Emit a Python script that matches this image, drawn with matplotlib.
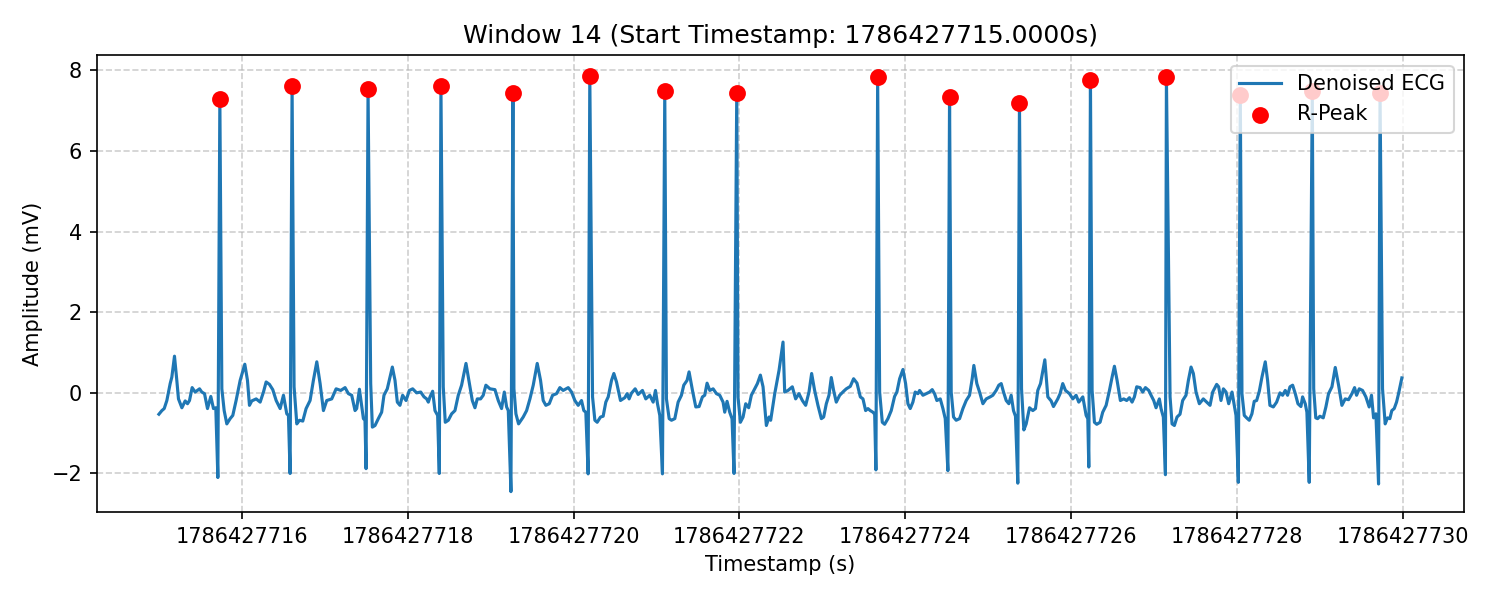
import matplotlib
matplotlib.use("Agg")
import matplotlib.pyplot as plt
from matplotlib.ticker import MultipleLocator

window_id = 14
start_ts = 1786427715.0

# R-peaks (offset from window start in s, amplitude in mV)
peak_t = [0.735, 1.606, 2.522, 3.401, 4.269, 5.196, 6.100, 6.968,
          8.667, 9.534, 10.377, 11.233, 12.149, 13.040, 13.908, 14.725]
peak_v = [7.28, 7.60, 7.53, 7.60, 7.43, 7.86, 7.48, 7.45,
          7.83, 7.35, 7.20, 7.75, 7.83, 7.40, 7.48, 7.45]

# denoised ECG trace (R-peaks are merged in below)
ecg_t = [
    0.000, 0.036, 0.064, 0.096, 0.136, 0.156, 0.188, 0.216, 0.236, 0.277,
    0.317, 0.345, 0.369, 0.401, 0.437, 0.490, 0.517, 0.550, 0.586, 0.626,
    0.658, 0.686, 0.711,
    0.759, 0.787, 0.819, 0.859, 0.891, 0.931, 0.980, 1.036, 1.068, 1.092,
    1.120, 1.173, 1.221, 1.261, 1.293, 1.333, 1.373, 1.414, 1.462, 1.502,
    1.542, 1.562, 1.582,
    1.630, 1.663, 1.695, 1.735, 1.775, 1.823, 1.863, 1.904, 1.944, 1.984,
    2.024, 2.084, 2.137, 2.193, 2.245, 2.285, 2.325, 2.365, 2.385, 2.418,
    2.466, 2.485, 2.498,
    2.554, 2.574, 2.606, 2.646, 2.686, 2.714, 2.754, 2.815, 2.847, 2.875,
    2.907, 2.939, 2.980, 3.020, 3.060, 3.108, 3.157, 3.197, 3.229, 3.249,
    3.269, 3.301, 3.329, 3.361, 3.381,
    3.429, 3.453, 3.490, 3.530, 3.570, 3.610, 3.650, 3.703, 3.751, 3.779,
    3.811, 3.839, 3.879, 3.911, 3.943, 3.992, 4.052, 4.092, 4.132, 4.165,
    4.193, 4.213, 4.245,
    4.281, 4.305, 4.337, 4.393, 4.434, 4.474, 4.514, 4.562, 4.602, 4.634,
    4.666, 4.707, 4.747, 4.795, 4.835, 4.875, 4.936, 4.976, 5.016, 5.056,
    5.096, 5.124, 5.148, 5.176,
    5.229, 5.257, 5.285, 5.325, 5.357, 5.389, 5.418, 5.458, 5.486, 5.518,
    5.566, 5.618, 5.646, 5.670, 5.698, 5.743, 5.779, 5.831, 5.871, 5.919,
    5.960, 5.988, 6.012, 6.040, 6.072,
    6.120, 6.153, 6.181, 6.221, 6.261, 6.301, 6.329, 6.369, 6.393, 6.434,
    6.474, 6.514, 6.554, 6.582, 6.610, 6.643, 6.683, 6.723, 6.763, 6.803,
    6.823, 6.851, 6.883, 6.911, 6.935,
    6.983, 7.012, 7.044, 7.076, 7.112, 7.144, 7.184, 7.217, 7.253, 7.285,
    7.325, 7.357, 7.377, 7.426, 7.478, 7.526, 7.546, 7.586, 7.638, 7.678,
    7.718, 7.759, 7.799, 7.839, 7.871, 7.907, 7.947, 7.988, 8.016, 8.048,
    8.080, 8.108, 8.136, 8.168, 8.209, 8.257, 8.289, 8.337, 8.377, 8.418,
    8.458, 8.490, 8.522, 8.550, 8.578, 8.610, 8.631, 8.646,
    8.691, 8.723, 8.751, 8.791, 8.831, 8.871, 8.899, 8.932, 8.972, 9.004,
    9.032, 9.060, 9.092, 9.120, 9.153, 9.173, 9.213, 9.253, 9.293, 9.325,
    9.353, 9.381, 9.422, 9.454, 9.482, 9.514,
    9.554, 9.582, 9.614, 9.655, 9.695, 9.735, 9.775, 9.807, 9.827, 9.863,
    9.896, 9.936, 9.976, 10.024, 10.056, 10.096, 10.128, 10.157, 10.185,
    10.217, 10.249, 10.277, 10.305, 10.329, 10.357,
    10.402, 10.430, 10.458, 10.498, 10.538, 10.570, 10.598, 10.631, 10.683,
    10.719, 10.759, 10.787, 10.839, 10.867, 10.899, 10.932, 10.980, 11.020,
    11.060, 11.092, 11.141, 11.181, 11.201, 11.213,
    11.253, 11.281, 11.309, 11.349, 11.381, 11.422, 11.462, 11.494, 11.522,
    11.554, 11.594, 11.634, 11.670, 11.703, 11.735, 11.763, 11.791, 11.831,
    11.863, 11.896, 11.936, 11.964, 11.996, 12.024, 12.064, 12.084, 12.112,
    12.137,
    12.193, 12.217, 12.245, 12.277, 12.313, 12.345, 12.385, 12.414, 12.446,
    12.474, 12.506, 12.546, 12.594, 12.634, 12.675, 12.707, 12.755, 12.779,
    12.807, 12.836, 12.868, 12.900, 12.940, 12.968, 12.988, 13.016,
    13.060, 13.088, 13.116, 13.148, 13.180, 13.208, 13.237, 13.269, 13.301,
    13.341, 13.369, 13.397, 13.438, 13.478, 13.518, 13.550, 13.582, 13.610,
    13.639, 13.671, 13.703, 13.735, 13.771, 13.791, 13.823, 13.843, 13.871,
    13.925, 13.950, 13.972, 14.000, 14.040, 14.072, 14.104, 14.145, 14.185,
    14.225, 14.265, 14.305, 14.345, 14.386, 14.418, 14.442, 14.474, 14.514,
    14.554, 14.594, 14.622, 14.647, 14.675, 14.707,
    14.755, 14.787, 14.815, 14.843, 14.867, 14.896, 14.924, 14.948, 14.988,
]
ecg_v = [
    -0.53, -0.44, -0.39, -0.19, 0.23, 0.39, 0.91, 0.31, -0.15, -0.37,
    -0.20, -0.27, -0.19, 0.13, 0.02, 0.10, 0.02, -0.02, -0.39, -0.09,
    -0.39, -0.37, -2.10,
    0.10, -0.44, -0.77, -0.64, -0.56, -0.19, 0.31, 0.71, 0.31, -0.31,
    -0.20, -0.15, -0.23, 0.02, 0.27, 0.21, 0.08, -0.19, -0.39, -0.06,
    -0.52, -0.56, -2.00,
    0.15, -0.77, -0.68, -0.70, -0.39, -0.19, 0.31, 0.77, 0.23, -0.44,
    -0.19, -0.15, 0.10, 0.06, 0.13, -0.02, -0.06, -0.44, -0.39, 0.09,
    -0.64, -0.68, -1.88,
    0.23, -0.85, -0.81, -0.64, -0.48, -0.06, 0.10, 0.64, 0.31, -0.23,
    -0.31, -0.06, -0.19, 0.06, 0.10, 0.00, 0.02, -0.10, -0.15, -0.23,
    -0.10, 0.04, -0.44, -0.56, -2.00,
    0.15, -0.73, -0.68, -0.52, -0.44, -0.06, 0.19, 0.73, 0.15, -0.19,
    -0.37, -0.15, -0.15, -0.06, 0.19, 0.10, 0.08, -0.19, -0.39, 0.02,
    -0.35, -0.44, -2.45,
    0.10, -0.52, -0.77, -0.60, -0.44, -0.15, 0.19, 0.73, 0.31, -0.19,
    -0.31, -0.27, -0.06, -0.02, 0.13, 0.06, 0.13, 0.02, -0.19, -0.31,
    -0.19, -0.44, -0.48, -2.01,
    -0.10, -0.68, -0.73, -0.60, -0.58, -0.23, -0.10, 0.31, 0.48, 0.27,
    -0.19, -0.12, -0.02, -0.15, -0.01, 0.10, -0.04, 0.06, -0.15, -0.06,
    -0.23, 0.06, -0.27, -0.56, -2.01,
    -0.15, -0.64, -0.68, -0.64, -0.23, -0.06, 0.19, 0.31, 0.52, 0.06,
    -0.35, -0.34, -0.10, -0.06, 0.24, 0.06, 0.10, -0.02, -0.06, -0.23,
    -0.48, -0.21, -0.48, -0.64, -2.00,
    -0.10, -0.73, -0.60, -0.27, -0.37, -0.06, 0.10, 0.23, 0.44, 0.15,
    -0.81, -0.60, -0.68, -0.02, 0.56, 1.26, 0.02, 0.06, 0.15, -0.15,
    -0.02, -0.19, -0.31, 0.02, 0.48, 0.06, -0.31, -0.64, -0.60, -0.27,
    -0.06, 0.38, 0.06, -0.23, -0.06, 0.04, 0.10, 0.16, 0.35, 0.24,
    -0.10, -0.15, -0.44, -0.39, -0.44, -0.48, -0.53, -1.91,
    0.02, -0.73, -0.78, -0.64, -0.44, -0.09, 0.02, 0.35, 0.58, 0.23,
    -0.27, -0.39, -0.23, 0.02, -0.02, 0.06, -0.06, -0.02, 0.02, 0.08,
    -0.02, -0.19, -0.15, -0.39, -0.64, -1.93,
    0.02, -0.60, -0.68, -0.64, -0.39, -0.19, -0.06, 0.35, 0.68, 0.23,
    0.02, -0.27, -0.15, -0.10, -0.06, 0.06, 0.19, 0.23, 0.02,
    -0.19, -0.27, -0.06, -0.44, -0.58, -2.24,
    0.10, -0.92, -0.77, -0.37, -0.44, -0.39, 0.06, 0.23, 0.82,
    -0.10, -0.20, -0.34, -0.15, -0.02, 0.23, 0.06, -0.02, -0.15,
    -0.06, -0.23, -0.10, -0.56, -0.64, -1.84,
    0.06, -0.73, -0.78, -0.73, -0.48, -0.31, 0.06, 0.39, 0.66,
    0.31, -0.19, -0.15, -0.19, -0.12, -0.23, -0.10, 0.15, 0.13,
    0.02, 0.13, 0.06, -0.06, -0.19, -0.37, -0.15, -0.39, -0.60,
    -2.03,
    -0.10, -0.77, -0.81, -0.60, -0.53, -0.19, -0.06, 0.31, 0.64,
    0.48, 0.02, -0.27, -0.15, -0.23, -0.31, 0.02, 0.21, 0.15,
    -0.19, 0.10, 0.02, -0.27, 0.02, -0.31, -0.56, -2.22,
    -0.02, -0.56, -0.62, -0.68, -0.52, -0.21, -0.19, 0.04, 0.39,
    0.77, 0.31, -0.31, -0.35, -0.23, 0.00, -0.06, 0.06, -0.06,
    0.15, 0.19, -0.02, -0.27, -0.34, -0.10, -0.27, -0.48, -2.22,
    0.10, -0.62, -0.64, -0.58, -0.62, -0.35, -0.02, 0.15, 0.63,
    0.19, -0.31, -0.15, -0.17, -0.02, 0.13, -0.06, 0.10, 0.06,
    -0.10, -0.35, -0.06, -0.62, -0.52, -2.26,
    0.10, -0.77, -0.62, -0.64, -0.44, -0.39, -0.23, -0.02, 0.37,
]

# merge peaks into the trace
pts = sorted(zip(ecg_t + peak_t, ecg_v + peak_v))
ts = [start_ts + p[0] for p in pts]
vs = [p[1] for p in pts]
peak_ts = [start_ts + t for t in peak_t]

fig, ax = plt.subplots(figsize=(10, 4), dpi=150)
ax.plot(ts, vs, label="Denoised ECG")
ax.scatter(peak_ts, peak_v, color="red", s=50, label="R-Peak", zorder=3)

ax.set_title(f"Window {window_id} (Start Timestamp: {start_ts:.4f}s)")
ax.set_xlabel("Timestamp (s)")
ax.set_ylabel("Amplitude (mV)")
ax.xaxis.set_major_locator(MultipleLocator(2))
ax.ticklabel_format(axis="x", useOffset=False, style="plain")
ax.grid(True, linestyle="--", alpha=0.6)
ax.legend(loc="upper right")

fig.subplots_adjust(left=0.0645, right=0.976, bottom=0.146, top=0.908)
fig.savefig("out.png")
